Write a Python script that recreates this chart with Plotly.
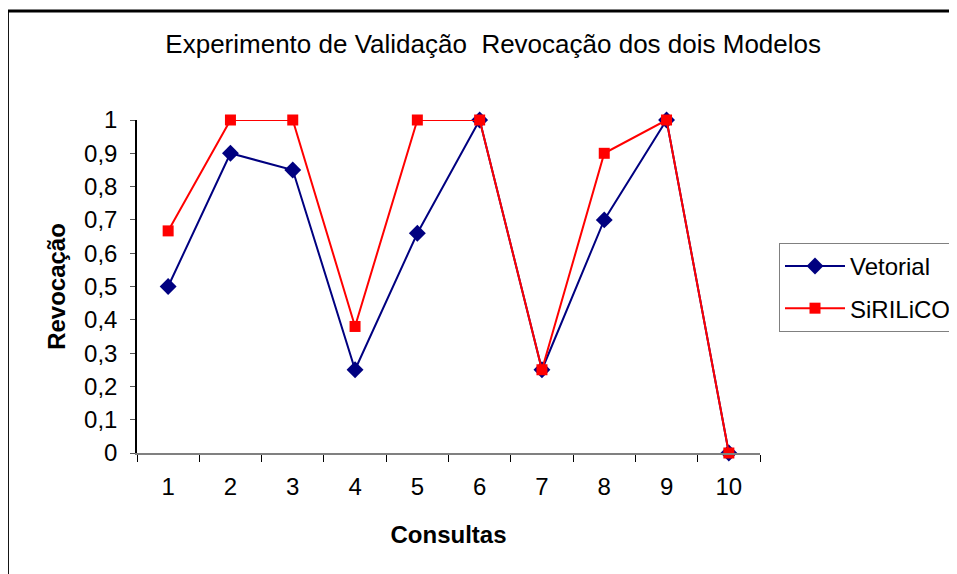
"""Experimento de Validação — revocação dos dois modelos (Excel-style line chart)."""

import plotly.graph_objects as go

CONSULTAS = ["1", "2", "3", "4", "5", "6", "7", "8", "9", "10"]
VETORIAL = [0.5, 0.9, 0.85, 0.25, 0.66, 1.0, 0.25, 0.7, 1.0, 0.0]
SIRILICO = [0.667, 1.0, 1.0, 0.38, 1.0, 1.0, 0.25, 0.9, 1.0, 0.0]
Y_TICKS = [0, 0.1, 0.2, 0.3, 0.4, 0.5, 0.6, 0.7, 0.8, 0.9, 1]

FONT = "Liberation Sans, Arial, sans-serif"
NAVY = "#000080"
RED = "#ff0000"
PAD = "\u00a0"  # legend box runs off the right edge in the original

fig = go.Figure()
fig.add_trace(
    go.Scatter(
        name="Vetorial" + PAD,
        x=CONSULTAS,
        y=VETORIAL,
        mode="lines+markers",
        line=dict(color=NAVY, width=2),
        marker=dict(symbol="diamond", size=13, color=NAVY),
        cliponaxis=False,
        legendgroup="a",
    )
)
fig.add_trace(
    go.Scatter(
        name="SiRILiCO" + PAD,
        x=CONSULTAS,
        y=SIRILICO,
        mode="lines+markers",
        line=dict(color=RED, width=2),
        marker=dict(symbol="square", size=11, color=RED),
        cliponaxis=False,
        legendgroup="b",
    )
)

# the page body adds an 8px offset, margins compensate so the plot sits at 137..760 / 120..453
fig.update_layout(
    width=957,
    height=574,
    paper_bgcolor="white",
    plot_bgcolor="white",
    separators=", ",
    font=dict(family=FONT, size=24, color="black"),
    margin=dict(l=129, r=205, t=112, b=129, autoexpand=False),
    title=dict(
        text="Experimento de Validação  Revocação dos dois Modelos",
        font=dict(size=26, color="black"),
        x=0.507,
        xanchor="center",
        y=0.937,
        yanchor="middle",
    ),
    xaxis=dict(
        type="category",
        range=[-0.5, 9.5],
        tickson="boundaries",
        ticks="outside",
        ticklen=7,
        tickcolor="black",
        showline=True,
        linecolor="#808080",
        linewidth=2,
        showgrid=False,
        zeroline=False,
        tickfont=dict(size=24),
        ticklabelstandoff=11,
        title=dict(text="<b>Consultas</b>", font=dict(size=24), standoff=27),
        fixedrange=True,
    ),
    yaxis=dict(
        range=[0, 1],
        tickvals=Y_TICKS,
        ticks="outside",
        ticklen=5,
        tickcolor="#555555",
        showline=True,
        linecolor="black",
        linewidth=1.5,
        showgrid=False,
        zeroline=False,
        tickfont=dict(size=24),
        ticklabelstandoff=8,
        title=dict(text="<b>Revocação</b>", font=dict(size=24), standoff=12),
        fixedrange=True,
    ),
    legend=dict(
        x=1.0305,
        y=0.631,
        xanchor="left",
        yanchor="top",
        bordercolor="#808080",
        borderwidth=1,
        bgcolor="white",
        font=dict(size=24),
        itemwidth=60,
        traceorder="grouped",
        tracegroupgap=8,
    ),
    shapes=[
        dict(
            type="rect",
            xref="paper",
            yref="paper",
            x0=-0.208,
            x1=2.0,
            y0=-1.0,
            y1=1.327,
            line=dict(color="black", width=3),
            layer="below",
        )
    ],
)

fig.write_html("out.html")
